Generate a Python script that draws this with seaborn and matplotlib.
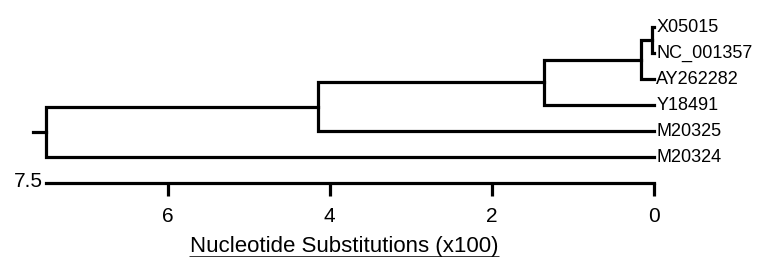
import numpy as np
import pandas as pd
import seaborn as sns
import matplotlib.pyplot as plt
from matplotlib.lines import Line2D

# leaves, top to bottom
leaves = ["X05015", "NC_001357", "AY262282", "Y18491", "M20325", "M20324"]
# successive joins: (cluster a, cluster b, height in substitutions x100)
joins = [
    ("X05015", "NC_001357", 0.02),
    ("n1", "AY262282", 0.16),
    ("n2", "Y18491", 1.36),
    ("n3", "M20325", 4.14),
    ("n4", "M20324", 7.5),
]
scale_ticks = [6, 4, 2, 0]
scale_max = 7.5

sns.set_style("white")
plt.rcParams["font.family"] = ["Liberation Sans", "DejaVu Sans"]
plt.rcParams["text.color"] = "black"
plt.rcParams["xtick.color"] = "black"
plt.rcParams["xtick.labelcolor"] = "black"

# layout of the tree
pos = {name: (0.0, float(i)) for i, name in enumerate(leaves)}
rows = []
for k, (a, b, h) in enumerate(joins):
    xa, ya = pos[a]
    xb, yb = pos[b]
    seg = f"n{k + 1}"
    for x, y in [(xa, ya), (h, ya), (h, yb), (xb, yb)]:
        rows.append({"x": x, "y": y, "seg": seg})
    pos[seg] = (h, (ya + yb) / 2)
root_x, root_y = pos[f"n{len(joins)}"]
stub = 0.16
rows += [{"x": root_x, "y": root_y, "seg": "root"},
         {"x": root_x + stub, "y": root_y, "seg": "root"}]
tree = pd.DataFrame(rows)

fig = plt.figure(figsize=(7.58, 2.57), dpi=100)
ax = fig.add_axes([0, 0, 1, 1])

px_per_unit = (654 - 46) / scale_max
ax.set_xlim(scale_max + 46 / px_per_unit, -(758 - 654) / px_per_unit)
ax.set_ylim((257 - 27) / 26, -27 / 26)

sns.lineplot(data=tree, x="x", y="y", units="seg", estimator=None, sort=False,
             color="black", lw=2.3, ax=ax, legend=False)
for line in ax.lines:
    line.set_solid_joinstyle("miter")
    line.set_solid_capstyle("projecting")

for name in leaves:
    ax.text(-0.03, pos[name][1], name, ha="left", va="center", fontsize=13, color="black")

# scale bar as the bottom spine
bar_y = (183 - 27) / 26
for s in ["top", "left", "right"]:
    ax.spines[s].set_visible(False)
ax.spines["bottom"].set_position(("data", bar_y))
ax.spines["bottom"].set_bounds(0, scale_max)
ax.spines["bottom"].set_linewidth(2.3)
ax.spines["bottom"].set_color("black")
ax.set_xticks(scale_ticks)
ax.set_xticklabels([str(t) for t in scale_ticks])
ax.tick_params(axis="x", direction="out", length=9, width=2.3, color="black",
               labelcolor="black", pad=8, labelsize=15, bottom=True)
ax.set_yticks([])
ax.set_xlabel("")
ax.set_ylabel("")
ax.text(scale_max + 0.04, bar_y - 0.05, str(scale_max), ha="right", va="center",
        fontsize=15, color="black")

title = ax.text(3.82, (252 - 27) / 26, "Nucleotide Substitutions (x100)",
                ha="center", va="baseline", fontsize=16, color="black")
fig.canvas.draw()
bb = title.get_window_extent()
uy = bb.y0 + 0.5
fig.add_artist(Line2D([bb.x0 / fig.bbox.width, bb.x1 / fig.bbox.width],
                      [uy / fig.bbox.height, uy / fig.bbox.height],
                      transform=fig.transFigure, color="black", lw=1.1))

fig.savefig("out.png", dpi=100)
plt.close(fig)
